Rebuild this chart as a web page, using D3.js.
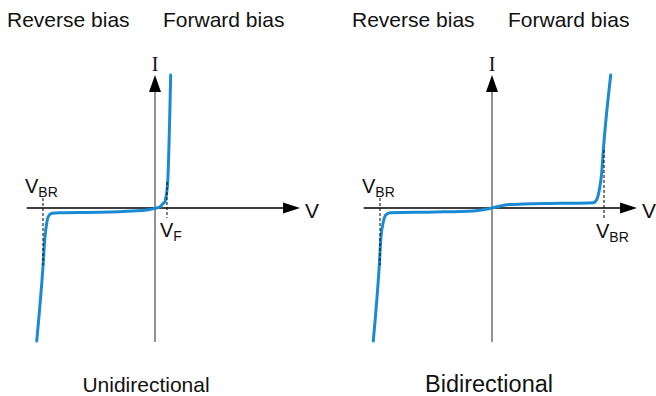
<!DOCTYPE html>
<html>
<head>
<meta charset="utf-8">
<script src="https://cdn.jsdelivr.net/npm/d3@7"></script>
<style>
  html, body { margin: 0; padding: 0; background: #fff; }
  svg { display: block; font-family: "Liberation Sans", Arial, sans-serif; }
</style>
</head>
<body>
<svg id="chart" width="656" height="396"></svg>
<script>
// Panel captions and region labels
const panelTitles = ["Unidirectional", "Bidirectional"];
const biasLabels = ["Reverse bias", "Forward bias"];

// Unidirectional TVS: voltage (V) and current (mA) samples of the I-V curve
const uniV = [-10.56, -10.02, -9.82, -9.67, -9.53, -9.22, -8.48, -4.91, -1.96, -0.74, 0, 0.45, 0.74, 0.89, 0.98, 1.04, 1.13, 1.40];
const uniI = [-100, -46.6, -21.6, -11.5, -6.5, -4.0, -3.5, -3.2, -2.3, -1.5, -0.3, 1.0, 3.5, 4.7, 8.5, 11, 18.6, 100];

// Bidirectional TVS: voltage (V) and current (mA) samples of the I-V curve
const biV = [-10.6, -10.09, -9.91, -9.7, -9.49, -9.1, -5.1, -1.67, -0.78, 0, 0.74, 1.34, 2.8, 6.07, 9.05, 9.4, 9.58, 9.79, 9.94, 10.6];
const biI = [-100, -46.6, -21.6, -10.3, -5.3, -3.5, -3.0, -2.25, -1.3, 0, 1.5, 2.5, 3.0, 3.5, 4.0, 7.3, 13.5, 26, 43.6, 100];

// Marker voltages and the current span of their dashed guides
const uniBreakdown = -10, uniForward = 1.07;
const biBreakdown = [-10, 10];

const svg = d3.select("#chart");
const blue = "#1a8bd3";

const panels = [
  { ox: 155, v: uniV, i: uniI, title: panelTitles[0], titleX: 146, titleSize: 21,
    biasX: [7, 163] },
  { ox: 492, v: biV, i: biI, title: panelTitles[1], titleX: 489, titleSize: 23.5,
    biasX: [352, 508] }
];

panels.forEach((p, k) => {
  const g = svg.append("g");
  const x = d3.scaleLinear().domain([-10, 10]).range([p.ox - 112, p.ox + 112]);
  const y = d3.scaleLinear().domain([-100, 100]).range([341, 75]);

  // region labels
  g.selectAll("text.bias").data(biasLabels).join("text")
    .attr("class", "bias")
    .attr("x", (d, j) => p.biasX[j]).attr("y", 27)
    .attr("font-size", 21).attr("fill", "#111")
    .text(d => d);

  // horizontal (V) axis
  const hx0 = x(-11.45), hx1 = x(12.95);
  g.append("line").attr("x1", hx0).attr("x2", hx1 - 14).attr("y1", y(0)).attr("y2", y(0))
    .attr("stroke", "#000").attr("stroke-width", 1.4);
  g.append("path")
    .attr("d", `M${hx1},${y(0)} L${hx1 - 17},${y(0) - 5.5} L${hx1 - 17},${y(0) + 5.5} Z`)
    .attr("fill", "#000");
  g.append("text").attr("x", hx1 + 5).attr("y", y(0) + 10)
    .attr("font-size", 21).attr("fill", "#111").text("V");

  // vertical (I) axis
  const vy0 = y(-100.7), vy1 = y(100);
  g.append("line").attr("x1", x(0)).attr("x2", x(0)).attr("y1", vy0).attr("y2", vy1 + 14)
    .attr("stroke", "#6e6e6e").attr("stroke-width", 1.5);
  g.append("path")
    .attr("d", `M${x(0)},${vy1} L${x(0) - 6},${vy1 + 17} L${x(0) + 6},${vy1 + 17} Z`)
    .attr("fill", "#000");
  g.append("text").attr("x", x(0)).attr("y", 71).attr("text-anchor", "middle")
    .attr("font-family", "'Liberation Serif', 'Times New Roman', serif")
    .attr("font-size", 20).attr("fill", "#111").text("I");

  // I-V curve
  const pts = p.v.map((v, j) => [v, p.i[j]]);
  g.append("path").datum(pts)
    .attr("d", d3.line().x(d => x(d[0])).y(d => y(d[1])).curve(d3.curveMonotoneX))
    .attr("fill", "none").attr("stroke", blue).attr("stroke-width", 3)
    .attr("stroke-linecap", "round").attr("stroke-linejoin", "round");

  // dashed guides and their subscripted labels
  const guide = (v, iTop, iBot) => g.append("line")
    .attr("x1", x(v)).attr("x2", x(v)).attr("y1", y(iTop)).attr("y2", y(iBot))
    .attr("stroke", "#000").attr("stroke-width", 1).attr("stroke-dasharray", "3,2");
  const label = (lx, ly, sub) => {
    const t = g.append("text").attr("x", lx).attr("y", ly).attr("fill", "#111");
    t.append("tspan").attr("font-size", 20).text("V");
    t.append("tspan").attr("font-size", 14).attr("dy", 4).text(sub);
  };

  if (k === 0) {
    guide(uniBreakdown, 7.5, -43);
    label(x(uniBreakdown) - 18, 193, "BR");
    guide(uniForward, 19.5, -7.5);
    label(x(uniForward) - 7, 237, "F");
  } else {
    guide(biBreakdown[0], 7.5, -43);
    label(x(biBreakdown[0]) - 18, 193, "BR");
    guide(biBreakdown[1], 43.6, -9);
    label(x(biBreakdown[1]) - 8, 238, "BR");
  }

  // panel caption
  g.append("text").attr("x", p.titleX).attr("y", 392).attr("text-anchor", "middle")
    .attr("font-size", p.titleSize).attr("fill", "#111").text(p.title);
});
</script>
</body>
</html>
